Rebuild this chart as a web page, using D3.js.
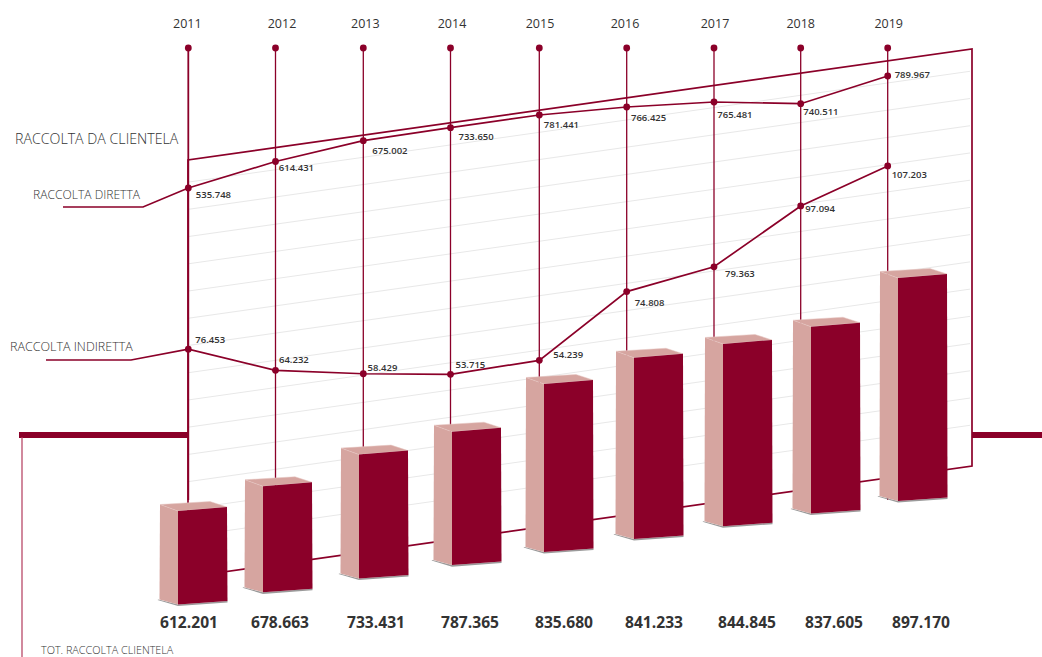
<!DOCTYPE html>
<html>
<head>
<meta charset="utf-8">
<style>
html,body{margin:0;padding:0;background:#fff;overflow:hidden}
svg{display:block}
text{font-family:"Open Sans",sans-serif}
</style>
<script src="https://cdn.jsdelivr.net/npm/d3@7/dist/d3.min.js"></script>
</head>
<body>
<svg id="chart" width="1042" height="657"></svg>
<script>
// ---------- DATA ----------
const years = [2011, 2012, 2013, 2014, 2015, 2016, 2017, 2018, 2019];
// Printed values (thousands, Italian separators applied by the formatter)
const raccoltaDiretta = [535748, 614431, 675002, 733650, 781441, 766425, 765481, 740511, 789967];
const raccoltaIndiretta = [76453, 64232, 58429, 53715, 54239, 74808, 79363, 97094, 107203];
const totRaccolta = [612201, 678663, 733431, 787365, 835680, 841233, 844845, 837605, 897170];
// The reference is an infographic that is not drawn to scale with its printed
// numbers, so these are the heights its marks actually show, read in the same units.
const direttaDrawn = [535748, 595898, 643108, 672616, 701448, 719600, 730948, 727088, 789967];
const totaleDrawn = [612201, 639708, 679097, 700001, 775919, 805187, 807391, 817514, 897170];
const gridTicks = d3.range(0, 14);

const seriesDirettaLabel = "RACCOLTA DIRETTA";
const seriesIndirettaLabel = "RACCOLTA INDIRETTA";
const groupLabel = "RACCOLTA DA CLIENTELA";
const totalLabel = "TOT.  RACCOLTA CLIENTELA";

// ---------- LAYOUT ----------
const WINE = "#8b0029", ROSE = "#d6a5a0", INK = "#333";
const svg = d3.select("#chart");
const fmt = v => d3.format(",")(v).replace(/,/g, ".");

const xScale = d3.scalePoint().domain(years).range([188, 888]);
const xNudge = [0.3, 0, 0.3, 0, 1.3, 1.2, 1, 0.2, -0.3];  // hand-placed stems in the reference
const x = d => xScale(d) + xNudge[years.indexOf(d)];
const xBar = d3.scalePoint().domain(years).range([178, 898]);
const barNudge = [0, -5, 1, 4, 6, 6, 5, 3, 0];      // uneven bar spacing of the reference
const yearDx = [-1, 6.5, 2, 1.5, 0.7, -1.7, 1, 0, 1];
const totalDx = [11, 17, 17, 18, 20, 20, 24, 23, 23];

// The back plane rises to the right
const planeTop = d3.scaleLinear().domain([188, 972]).range([160, 49]);
const planeBottom = d3.scaleLinear().domain([188, 972]).range([577, 466]);
const slant = px => planeTop(px) - planeTop(188);
const gridY = d3.scaleLinear().domain([0, 13]).range([536, 182]);

const yDiretta = d3.scaleLinear().domain([535748, 789967]).range([188, 76]);
const yIndiretta = d3.scaleLinear().domain([53715, 107203]).range([411.5, 265]);
const barHeight = d3.scaleLinear().domain([612201, 897170]).range([93.5, 223]);
const barBase = d3.scaleLinear().domain([178, 898]).range([604.5, 501]);

// ---------- PLANE ----------
svg.append("g").selectAll("line").data(gridTicks).join("line")
  .attr("x1", 189).attr("x2", 970)
  .attr("y1", d => gridY(d)).attr("y2", d => gridY(d) + slant(970))
  .attr("stroke", "#e8e8e8").attr("stroke-width", 1);

const plane = d3.line()([[188, planeBottom(188)], [188, planeTop(188)], [972, planeTop(972)], [972, planeBottom(972)], [188, planeBottom(188)]]);
svg.append("path").attr("d", plane).attr("fill", "none").attr("stroke", WINE).attr("stroke-width", 1.7);

svg.append("rect").attr("x", 19).attr("y", 432).attr("width", 169).attr("height", 6).attr("fill", WINE);
svg.append("rect").attr("x", 972).attr("y", 432).attr("width", 70).attr("height", 6).attr("fill", WINE);
svg.append("line").attr("x1", 22).attr("x2", 22).attr("y1", 437).attr("y2", 657).attr("stroke", "#b23a5c").attr("stroke-width", 1.2);

// ---------- STEMS ----------
svg.append("g").selectAll("line").data(years).join("line")
  .attr("x1", d => x(d)).attr("x2", d => x(d)).attr("y1", 48).attr("y2", 500)
  .attr("stroke", WINE).attr("stroke-width", (d, i) => i === 0 ? 1.8 : 1.3);
svg.append("g").selectAll("circle").data(years).join("circle")
  .attr("cx", d => x(d)).attr("cy", 48).attr("r", 3.4).attr("fill", WINE);
svg.append("g").selectAll("text").data(years).join("text")
  .attr("x", (d, i) => x(d) + yearDx[i]).attr("y", 28).attr("text-anchor", "middle")
  .attr("font-size", 12.5).attr("fill", INK).text(d => d);

// ---------- LINES ----------
const lineDiretta = direttaDrawn.map((v, i) => [x(years[i]), yDiretta(v)]);
const lineIndiretta = raccoltaIndiretta.map((v, i) => [x(years[i]), yIndiretta(v) + slant(x(years[i]))]);
const pathGen = d3.line();
[[lineDiretta, [[63, 207], [143, 207]]], [lineIndiretta, [[46, 360], [131, 360]]]].forEach(([pts, lead]) => {
  svg.append("path").attr("d", pathGen(lead.concat(pts))).attr("fill", "none")
    .attr("stroke", WINE).attr("stroke-width", 1.7);
  svg.append("g").selectAll("circle").data(pts).join("circle")
    .attr("cx", d => d[0]).attr("cy", d => d[1]).attr("r", 3.4).attr("fill", WINE);
});

const direttaOffset = [[7.5, 10], [3.3, 9], [9, 13], [8, 12.5], [4.5, 13], [4.3, 13.7], [3.3, 16], [2.6, 11.5], [7, 1.7]];
const indirettaOffset = [[7, -5.7], [3.5, -7], [4.3, -2.8], [5, -6.6], [14, -2.4], [8, 14], [11, 10], [4.5, 6], [4, 12]];
function valueLabels(values, pts, offs) {
  svg.append("g").selectAll("text").data(values).join("text")
    .attr("x", (d, i) => pts[i][0] + offs[i][0]).attr("y", (d, i) => pts[i][1] + offs[i][1])
    .attr("font-size", 9.5).attr("font-weight", 600).attr("fill", INK).text(fmt);
}
valueLabels(raccoltaDiretta, lineDiretta, direttaOffset);
valueLabels(raccoltaIndiretta, lineIndiretta, indirettaOffset);

// ---------- BARS ----------
const FW = 49, SW = 18;
const poly = d3.line();
svg.append("g").selectAll("g").data(years).join("g").each(function (yr, i) {
  const g = d3.select(this);
  const px = xBar(yr) + barNudge[i];
  const yB = barBase(px), yT = yB - barHeight(totaleDrawn[i]);
  g.append("path").attr("fill", "#9a9a9a").attr("d", poly([
    [px - SW - 1.5, yB - 5], [px, yB], [px + FW + 0.5, yB - 3.5], [px + FW + 0.5, yB - 2], [px, yB + 1.6], [px - SW - 2.5, yB - 4.5]]) + "Z");
  g.append("path").attr("fill", ROSE).attr("d", poly([
    [px - SW, yT - 6.5], [px, yT], [px, yB], [px - SW - 0.5, yB - 5]]) + "Z");
  g.append("path").attr("fill", ROSE).attr("stroke", "#e6c6c2").attr("stroke-width", 0.5).attr("d", poly([
    [px - SW, yT - 6.5], [px, yT], [px + FW, yT - 4], [px + FW - 17, yT - 9.5]]) + "Z");
  g.append("path").attr("fill", WINE).attr("d", poly([
    [px, yT], [px + FW, yT - 4], [px + FW + 0.5, yB - 3.5], [px, yB]]) + "Z");
});

svg.append("g").selectAll("text").data(totRaccolta).join("text")
  .attr("x", (d, i) => xBar(years[i]) + barNudge[i] + totalDx[i]).attr("y", 628)
  .attr("text-anchor", "middle").attr("font-size", 15.6).attr("font-weight", 700)
  .attr("fill", INK).text(fmt);

// ---------- SERIES LABELS ----------
const side = (t, px, py, size) => svg.append("text").attr("x", px).attr("y", py)
  .attr("font-size", size).attr("font-weight", 300).attr("fill", "#333").text(t);
side(groupLabel, 15, 144, 14.2);
side(seriesDirettaLabel, 33, 199, 12.1);
side(seriesIndirettaLabel, 10, 351, 12.5);
side(totalLabel, 41, 653.5, 10.8);
</script>
</body>
</html>
